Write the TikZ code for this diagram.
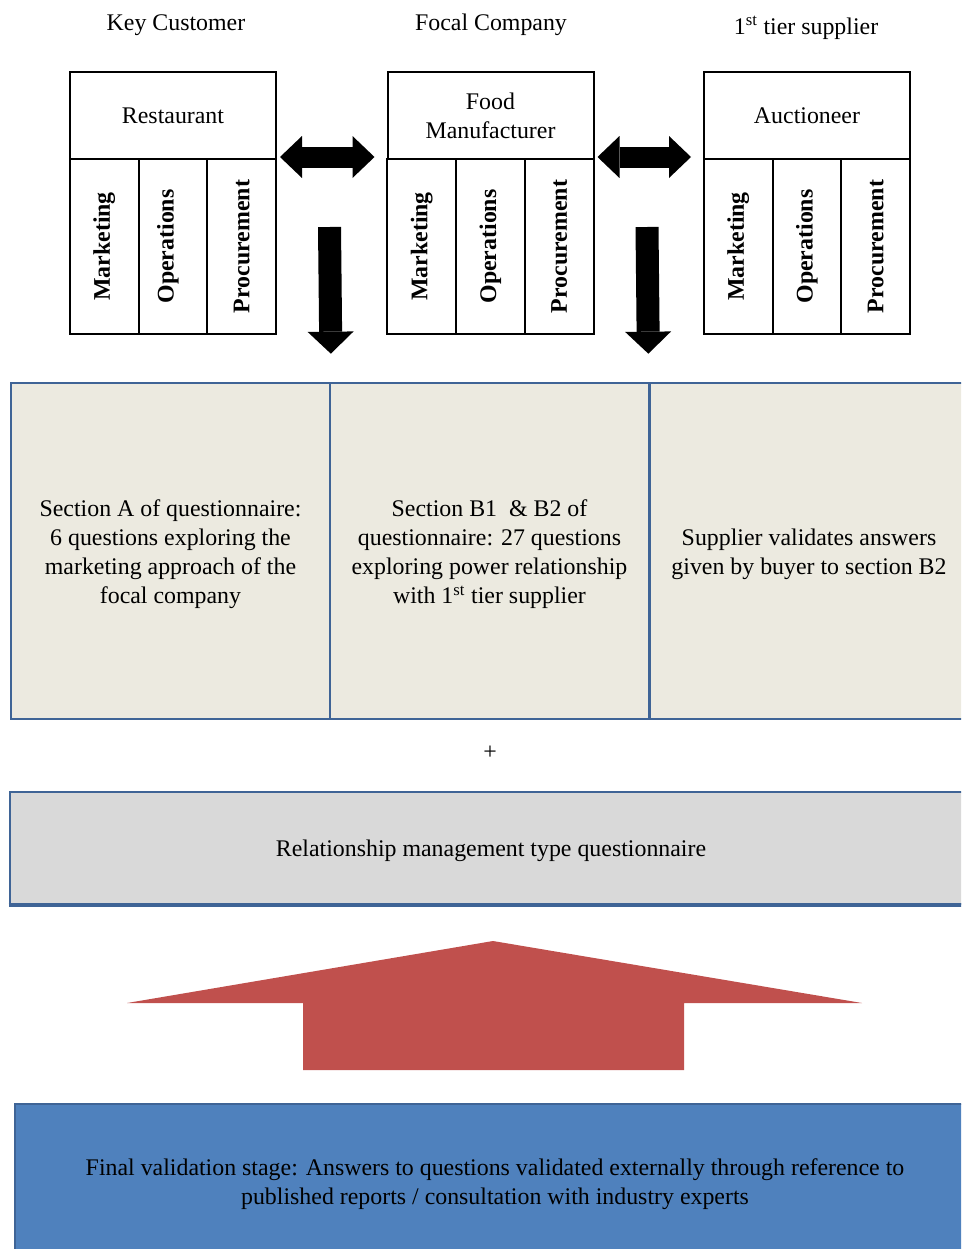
\documentclass[tikz,border=0pt]{standalone}
\usepackage{fontspec}
\setmainfont{Liberation Serif}
\usetikzlibrary{arrows.meta}
\definecolor{bord}{HTML}{3F6496}
\definecolor{beige}{HTML}{ECEAE0}
\definecolor{greybox}{HTML}{D9D9D9}
\definecolor{bluebox}{HTML}{4F81BD}
\definecolor{redar}{HTML}{C0504D}
\begin{document}
\begin{tikzpicture}[x=0.75pt,y=-0.75pt,
  every node/.style={font=\fontsize{17.9}{21.75}\selectfont, inner sep=0pt, align=center},
  hdr/.style={draw, line width=1.5pt, minimum width=154.5pt, minimum height=65.25pt},
  col/.style={draw, line width=1.5pt, minimum width=51.5pt, minimum height=131.25pt, font=\fontsize{17.9}{21.75}\selectfont\bfseries},
  sec/.style={draw=bord, fill=beige, line width=2pt, minimum width=239.25pt, minimum height=252pt},
  txt/.style={},
  title/.style={anchor=base},
  dbl/.style={line width=15.75pt, {Triangle[length=16.5pt,width=31.5pt,line width=0pt]}-{Triangle[length=16.5pt,width=31.5pt,line width=0pt]}},
  downar/.style={line width=17.25pt, -{Triangle[length=16.5pt,width=34.5pt,line width=0pt]}}]
\useasboundingbox (0,0) rectangle (961,1249);
\clip (0,0) rectangle (961,1249);

% titles
\node[title] (kc) at (176,30) {Key Customer};
\node[title] (fc) at (491,30) {Focal Company};
\node[title] (ts) at (806,34) {1\textsuperscript{st} tier supplier};

% box 1
\node[hdr] (h1) at (173,115.5) {Restaurant};
\node[col] (m1) at (104.3,246.5) {\rotatebox{90}{Marketing}};
\node[col] (o1) at (173,246.5) {};
\node[txt, font=\fontsize{17.9}{21.75}\selectfont\bfseries] (o1t) at ([shift={(-5,0)}]o1.center) {\rotatebox{90}{Operations}};
\node[col] (p1) at (241.7,246.5) {\rotatebox{90}{Procurement}};
% box 2
\node[hdr] (h2) at (490.5,115.5) {Food\\Manufacturer};
\node[col] (m2) at (421.8,246.5) {\rotatebox{90}{Marketing}};
\node[col] (o2) at (490.5,246.5) {\rotatebox{90}{Operations}};
\node[col] (p2) at (559.2,246.5) {\rotatebox{90}{Procurement}};
% box 3
\node[hdr] (h3) at (807,115.5) {Auctioneer};
\node[col] (m3) at (738.3,246.5) {\rotatebox{90}{Marketing}};
\node[col] (o3) at (807,246.5) {\rotatebox{90}{Operations}};
\node[col] (p3) at (875.7,246.5) {\rotatebox{90}{Procurement}};

% sections
\node[sec] (sa) at (170.5,551) {};
\node[sec] (sb) at (489.5,551) {};
\node[sec] (sc) at (809,551) {};
\node[txt] (sat) at ([shift={(0,3)}]sa.center) {Section A of questionnaire:\\6 questions exploring the\\marketing approach of the\\focal company};
\node[txt] (sbt) at ([shift={(0,3)}]sb.center) {Section B1 \ \& B2 of\\questionnaire: 27 questions\\exploring power relationship\\with 1\textsuperscript{st} tier supplier};
\node[txt] (sct) at ([shift={(0,3)}]sc.center) {Supplier validates answers\\given by buyer to section B2};

% double arrows
\draw[dbl] ([shift={(3,-3)}]h1.south east) -- ([shift={(-12,-3)}]h2.south west);
\draw[dbl] ([shift={(3,-3)}]h2.south east) -- ([shift={(-12,-3)}]h3.south west);

% down arrows
\coordinate (d1s) at (329.5,227);
\coordinate (d2s) at (647,227);
\draw[downar] (d1s) -- ([shift={(-0.5,-28)}]sa.north east);
\draw[downar] (d2s) -- ([shift={(-2,-28)}]sb.north east);

% plus
\node (plus) at (490,753) {+};

% grey box
\node[draw=bord, fill=greybox, line width=2pt, minimum width=721.5pt, minimum height=84pt] (rm) at (491,848) {};
\draw[bord, line width=3pt] (rm.south west) -- (rm.south east);
\node[txt] (rmt) at ([shift={(0,3)}]rm.center) {Relationship management type questionnaire};

% red arrow
\fill[redar] (493,941) -- (862,1003) -- (684,1003) -- (684,1070) -- (303,1070) -- (303,1003) -- (127,1003) -- cycle;

% blue box
\node[draw=bord, fill=bluebox, line width=1.5pt, minimum width=720pt, minimum height=117pt] (fv) at (495,1181.5) {};
\node[txt] (fvt) at ([shift={(0,3)}]fv.center) {Final validation stage: Answers to questions validated externally through reference to\\published reports / consultation with industry experts};
\end{tikzpicture}
\end{document}
